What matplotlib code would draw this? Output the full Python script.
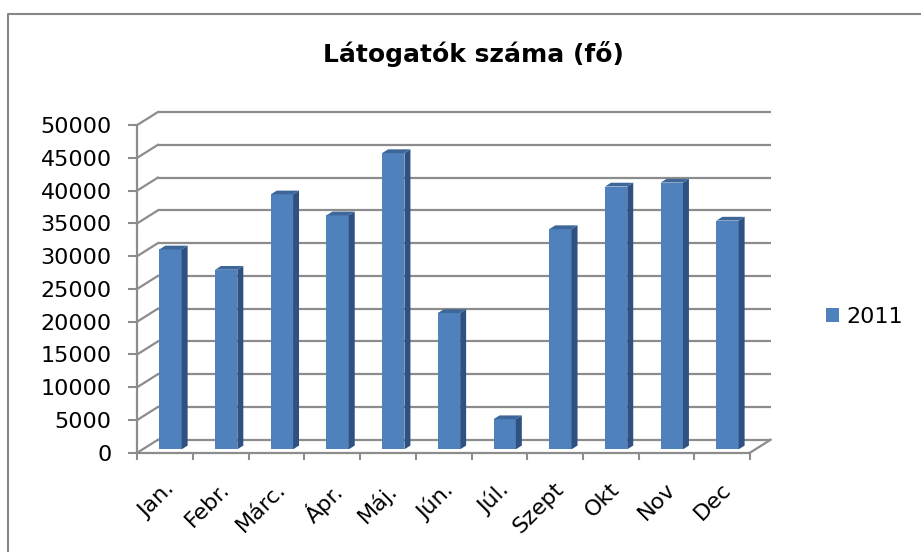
import numpy as np
import matplotlib
matplotlib.use('Agg')
import matplotlib.pyplot as plt
import matplotlib.transforms as mtransforms
from matplotlib.patches import Polygon, Patch
from matplotlib.lines import Line2D

# data
months = ['Jan.', 'Febr.', 'Márc.', 'Ápr.', 'Máj.', 'Jún.', 'Júl.',
          'Szept', 'Okt', 'Nov', 'Dec']
visitors = [30500, 27400, 38900, 35700, 45200, 20800, 4600,
            33600, 40100, 40700, 34900]
series_name = '2011'
title = 'Látogatók száma (fő)'
y_ticks = np.arange(0, 50001, 5000)

# fake 3D depth (oblique offset, in data units)
depth_x = 0.37
depth_y = 1980
d0, d1 = 0.26, 0.55     # bar front / back as fraction of depth
bar_w = 0.4

c_front = '#4f81bd'
c_side = '#2f5182'
c_top = '#3d6699'
c_grid = '#8c8c8c'

W, H = 921, 552
cat_px = 55.7
val_px = 327.7 / 50000

fig = plt.figure(figsize=(W / 100, H / 100), dpi=100)
ax = fig.add_axes([137.3 / W, 99.3 / H, 11.5 * cat_px / W, 53000 * val_px / H])
ax.set_xlim(0, 11.5)
ax.set_ylim(0, 53000)
ax.patch.set_visible(False)

n = len(months)

# back wall gridlines + left wall diagonals
for v in y_ticks:
    ax.plot([depth_x, n + depth_x], [v + depth_y, v + depth_y],
            color=c_grid, lw=1.6, zorder=1, solid_capstyle='butt')
    ax.plot([0, depth_x], [v, v + depth_y], color=c_grid, lw=1.6, zorder=1)
# right floor edge
ax.plot([n, n + depth_x], [0, depth_y], color=c_grid, lw=1.6, zorder=1)

# bars
for i, v in enumerate(visitors):
    xl = i + 0.5 - bar_w / 2
    xr = i + 0.5 + bar_w / 2
    fx0, fy0 = d0 * depth_x, d0 * depth_y
    fx1, fy1 = d1 * depth_x, d1 * depth_y
    front = Polygon([(xl + fx0, fy0), (xr + fx0, fy0), (xr + fx0, v + fy0), (xl + fx0, v + fy0)],
                    closed=True, fc=c_front, ec='none', zorder=3)
    side = Polygon([(xr + fx0, fy0), (xr + fx1, fy1), (xr + fx1, v + fy1), (xr + fx0, v + fy0)],
                   closed=True, fc=c_side, ec='none', zorder=3)
    top = Polygon([(xl + fx0, v + fy0), (xr + fx0, v + fy0), (xr + fx1, v + fy1), (xl + fx1, v + fy1)],
                  closed=True, fc=c_top, ec='none', zorder=3)
    for p in (front, side, top):
        ax.add_patch(p)

# axes
for s in ('top', 'right'):
    ax.spines[s].set_visible(False)
ax.spines['left'].set_bounds(0, 50000)
ax.spines['bottom'].set_bounds(0, n)
for s in ('left', 'bottom'):
    ax.spines[s].set_color(c_grid)
    ax.spines[s].set_linewidth(1.6)
    ax.spines[s].set_zorder(2)

ax.set_yticks(y_ticks)
ax.set_yticklabels([str(t) for t in y_ticks])
ax.set_xticks(np.arange(0, n + 1))
ax.set_xticklabels([])
ax.tick_params(axis='y', direction='out', length=6.5, width=1.5, color=c_grid,
               labelsize=16, pad=12)
ax.tick_params(axis='x', direction='out', length=4.7, width=1.5, color=c_grid)

lab_tr = mtransforms.offset_copy(ax.transData, fig=fig, x=-1, y=-19, units='points')
for i, m in enumerate(months):
    ax.text(i + 0.5, 0, m, transform=lab_tr, rotation=45, rotation_mode='anchor',
            ha='right', va='top', fontsize=16)

fig.text(473 / W, 1 - 54 / H, title, ha='center', va='center',
         fontsize=18, fontweight='bold')

fig.legend(handles=[Patch(fc=c_front, ec='none', label=series_name)],
           loc='center left', bbox_to_anchor=(826 / W, 1 - 317 / H),
           frameon=False, fontsize=16, handlelength=0.6, handleheight=0.55,
           handletextpad=0.3, borderpad=0, borderaxespad=0)

# outer chart frame
fig.add_artist(Line2D([8 / W, 8 / W, 1], [0, 1 - 13.5 / H, 1 - 13.5 / H],
                      transform=fig.transFigure, color='#878787', lw=1.5))

fig.savefig('out.png', dpi=100)
